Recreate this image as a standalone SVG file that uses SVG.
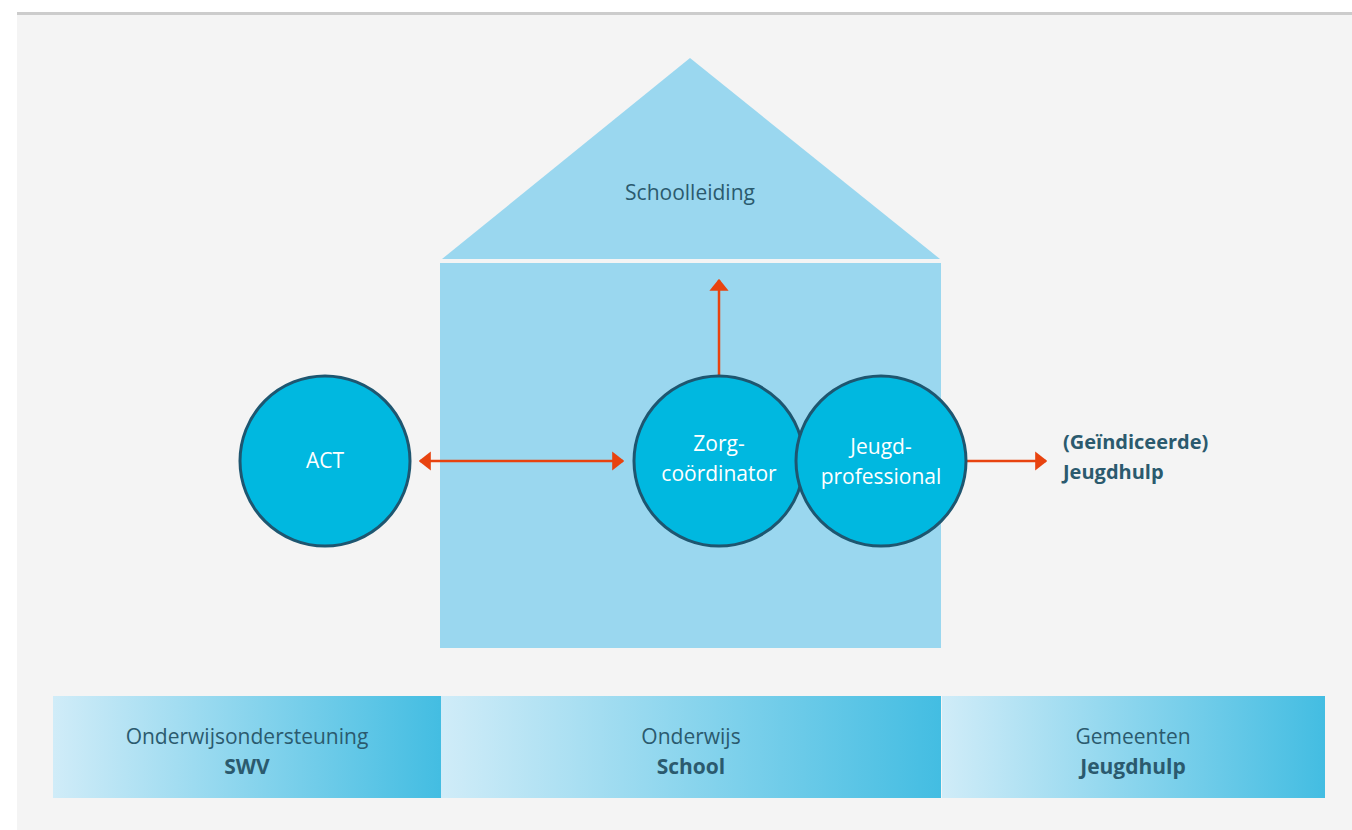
<svg xmlns="http://www.w3.org/2000/svg" width="1352" height="830" viewBox="0 0 1352 830">
<defs>
<style>
.bg{fill:#f4f4f4}
.house{fill:#9ad7ef}
.node{fill:#00b8e0;stroke:#1e5670;stroke-width:3}
.lbl{font-family:"Open Sans","Noto Sans",sans-serif;font-size:21px;text-anchor:middle}
.w{fill:#ffffff}
.d{fill:#2b5a6e}
.b{font-weight:bold}
.conn{stroke:#e8430f;stroke-width:2.5;fill:none}
</style>
<linearGradient id="bar" x1="0" y1="0" x2="1" y2="0">
<stop offset="0" stop-color="#d0ecf8"/>
<stop offset="1" stop-color="#43bde2"/>
</linearGradient>
<marker id="ah" viewBox="0 0 10 16" refX="9" refY="8" markerWidth="4.8" markerHeight="8" markerUnits="strokeWidth" orient="auto-start-reverse">
<path d="M0,0 L10,8 L0,16 z" fill="#e8430f"/>
</marker>
</defs>
<rect x="0" y="0" width="1352" height="830" fill="#ffffff"/>
<rect class="bg" x="17" y="15" width="1335" height="815"/>
<rect x="17" y="12" width="1335" height="3" fill="#cccccc"/>

<g id="house">
<polygon class="house" points="690,58 442,259 940,259"/>
<rect class="house" x="440" y="263" width="501" height="385"/>
<text class="lbl d" x="690" y="200">Schoolleiding</text>
</g>

<g id="connectors">
<line class="conn" x1="420" y1="461" x2="623" y2="461" marker-start="url(#ah)" marker-end="url(#ah)"/>
<line class="conn" x1="719" y1="376" x2="719" y2="280" marker-end="url(#ah)"/>
<line class="conn" x1="967" y1="461" x2="1046" y2="461" marker-end="url(#ah)"/>
</g>

<g id="act">
<circle class="node" cx="325" cy="461" r="85"/>
<text class="lbl w" x="325" y="468">ACT</text>
</g>
<g id="zorg">
<circle class="node" cx="719" cy="461" r="85"/>
<text class="lbl w" x="719" y="451">Zorg-</text>
<text class="lbl w" x="719" y="481">coördinator</text>
</g>
<g id="jeugd">
<circle class="node" cx="881" cy="461" r="85"/>
<text class="lbl w" x="881" y="454">Jeugd-</text>
<text class="lbl w" x="881" y="484">professional</text>
</g>

<g id="jeugdhulp-label">
<text class="lbl d b" x="1063" y="449" style="text-anchor:start;font-size:20px">(Geïndiceerde)</text>
<text class="lbl d b" x="1063" y="479" style="text-anchor:start;font-size:20px">Jeugdhulp</text>
</g>

<g id="bar-swv">
<rect x="53" y="696" width="388" height="102" fill="url(#bar)"/>
<text class="lbl d" x="247" y="744">Onderwijsondersteuning</text>
<text class="lbl d b" x="247" y="774">SWV</text>
</g>
<g id="bar-school">
<rect x="441" y="696" width="500" height="102" fill="url(#bar)"/>
<text class="lbl d" x="691" y="744">Onderwijs</text>
<text class="lbl d b" x="691" y="774">School</text>
</g>
<g id="bar-gemeenten">
<rect x="942" y="696" width="383" height="102" fill="url(#bar)"/>
<text class="lbl d" x="1133" y="744">Gemeenten</text>
<text class="lbl d b" x="1133" y="774">Jeugdhulp</text>
</g>
</svg>
